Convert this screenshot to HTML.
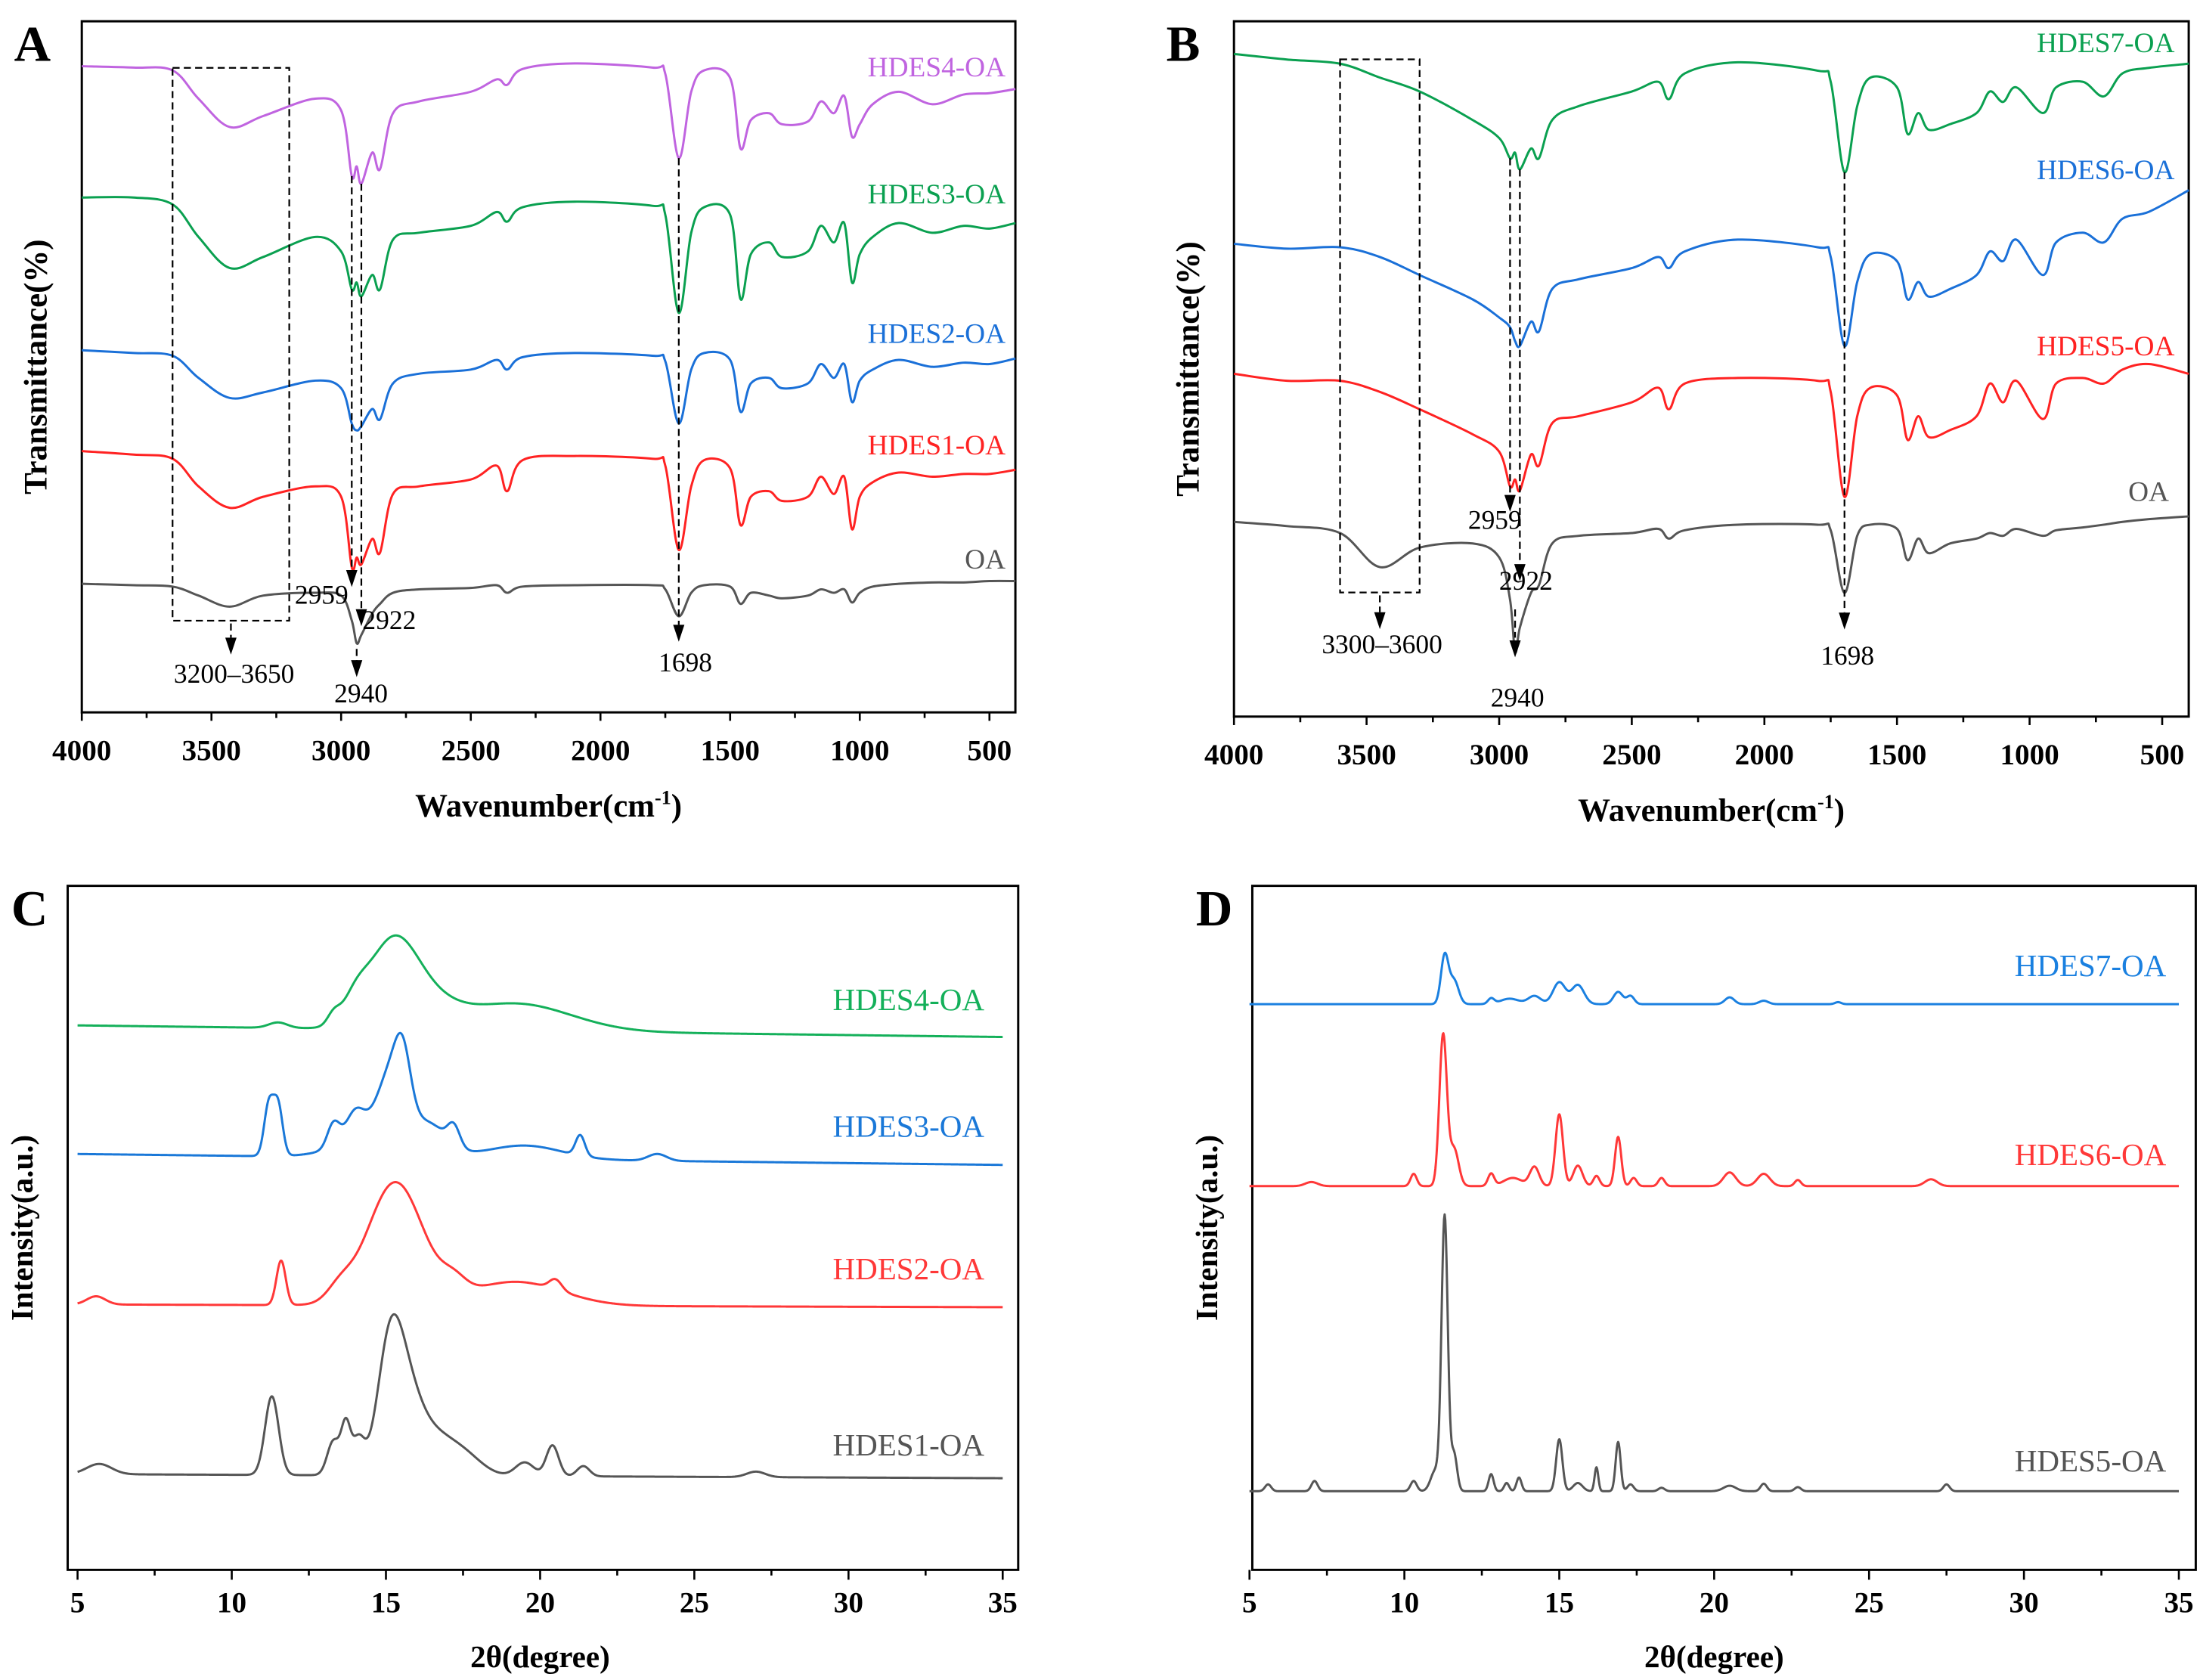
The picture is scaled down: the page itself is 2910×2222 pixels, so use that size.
<!DOCTYPE html>
<html><head><meta charset="utf-8"><style>
html,body{margin:0;padding:0;background:#fff;}
svg{display:block;font-family:"Liberation Serif",serif;}
</style></head><body>
<svg id="fig" width="2910" height="2222" viewBox="0 0 1560 1191" xmlns="http://www.w3.org/2000/svg"></svg>
<script>
// ---------- Panel A data (FTIR, transmittance a.u.) ----------
const wnA=[4000,3800,3650,3550,3430,3300,3100,3000,2959,2940,2922,2880,2850,2800,2700,2500,2400,2360,2300,2100,1800,1750,1698,1650,1600,1500,1460,1420,1350,1300,1200,1150,1100,1060,1030,1000,950,850,720,600,500,400];
const a_HDES4=[93.5,93.3,92.9,88.8,84.7,86.3,88.8,87.1,77.6,79.0,76.5,81.0,78.6,86.7,88.4,89.8,91.6,90.8,93.1,93.9,93.3,92.4,80.2,89.8,92.9,91.8,81.6,85.7,86.7,85.1,85.5,88.4,86.7,89.2,83.3,85.1,88.0,89.8,88.0,89.4,89.6,90.2];
const a_HDES3=[74.5,74.5,73.5,68.8,64.3,65.9,68.8,66.7,61.2,62.2,60.2,63.3,61.2,68.4,69.4,70.4,72.4,71.0,73.1,73.9,73.3,72.0,57.8,69.4,73.1,72.0,59.8,66.3,68.0,65.9,66.7,70.4,68.0,70.8,62.2,66.3,68.8,70.8,69.4,70.4,70.0,70.8];
const a_HDES2=[52.4,52.0,51.6,48.4,45.5,46.3,48.0,46.9,41.8,40.8,41.4,43.9,42.4,47.6,49.0,49.6,51.0,49.6,51.4,52.0,51.6,50.8,41.8,49.6,52.0,51.0,43.5,47.6,48.4,46.9,47.6,50.4,48.4,50.4,44.9,48.0,49.6,51.0,50.0,50.6,50.4,51.2];
const a_HDES1=[37.8,37.3,36.7,32.7,29.6,31.2,32.7,31.2,21.0,22.4,21.4,25.1,23.1,31.6,32.7,33.7,35.7,32.0,36.5,37.1,36.7,35.7,23.5,32.7,36.5,35.3,27.1,31.2,32.0,30.6,31.2,34.1,31.6,34.1,26.5,31.2,33.3,34.7,34.1,34.5,34.5,35.1];
const a_OA=[18.6,18.4,18.2,16.9,15.3,16.9,17.3,16.9,13.3,10.0,11.2,14.3,15.7,17.3,17.8,18.0,18.4,17.3,18.2,18.4,18.4,17.8,13.9,17.3,18.4,18.2,15.7,17.3,16.9,16.5,16.9,17.8,17.3,17.8,15.9,17.3,18.2,18.6,18.8,18.8,19.0,19.0];
// ---------- Panel B data ----------
const wnB=[4000,3800,3600,3450,3300,3100,3000,2959,2940,2922,2880,2850,2800,2700,2500,2400,2360,2300,2100,1800,1750,1698,1650,1600,1500,1460,1420,1380,1300,1200,1150,1100,1050,950,900,800,720,650,550,400];
const b_HDES7=[95.3,94.5,93.9,91.9,89.9,85.8,83.2,80.3,81.1,78.7,81.7,80.3,85.8,87.8,89.9,91.3,88.8,92.5,94.1,92.9,91.3,78.3,87.8,91.9,90.5,83.8,86.8,84.4,85.2,86.8,89.9,88.4,90.5,86.8,90.5,91.3,89.2,92.5,93.3,93.9];
const b_HDES6=[68.0,67.3,67.5,66.1,63.5,60.0,57.4,56.0,54.0,53.3,56.8,55.4,61.5,62.9,64.5,66.1,64.5,66.9,68.6,67.5,66.1,53.3,62.5,66.5,65.5,60.0,62.5,60.4,61.5,63.5,66.9,65.5,68.6,63.5,68.2,69.6,68.2,71.6,72.6,75.7];
const b_HDES5=[49.3,48.3,48.3,46.7,44.2,40.6,38.1,33.1,34.1,32.5,37.7,36.1,42.2,43.2,45.2,47.3,44.2,47.9,48.7,48.3,46.7,31.6,43.2,47.3,46.2,39.8,43.2,40.2,41.2,43.2,47.9,45.2,48.3,42.8,47.9,48.7,47.9,49.9,50.7,49.3];
const b_OA=[28.0,27.4,26.4,21.5,24.3,24.9,22.9,16.8,9.3,12.8,17.8,18.9,24.9,26.0,26.4,27.0,25.6,26.8,27.6,27.6,26.8,17.8,26.0,27.6,27.0,22.5,25.6,23.5,24.9,25.6,26.4,26.0,27.0,26.0,26.8,27.2,27.6,28.0,28.4,28.8];
// ---------- Panel C data (XRD peaks: position, height, width) ----------
const c4_base=[79.6,77.9];
const c4_pos=[15.2,16.4,14.0,13.3,19.2,11.5];
const c4_h=[12.0,3.0,3.0,1.5,4.0,0.8];
const c4_w=[0.8,0.9,0.4,0.2,1.8,0.3];
const c3_base=[60.8,59.2];
const c3_pos=[11.2,11.5,13.3,14.0,15.0,15.2,15.55,16.5,17.2,19.5,21.3,23.8];
const c3_h=[7.4,7.4,3.5,4.0,4.0,9.0,7.0,3.0,3.0,2.0,3.0,1.0];
const c3_w=[0.15,0.15,0.2,0.3,1.2,0.45,0.25,0.5,0.2,1.2,0.15,0.3];
const c2_base=[38.8,38.4];
const c2_pos=[5.6,11.6,15.3,13.5,17.2,19.2,20.5];
const c2_h=[1.2,6.5,17.9,2.0,2.0,3.5,1.5];
const c2_w=[0.3,0.15,0.9,0.4,0.4,1.5,0.2];
const c1_base=[14.0,13.4];
const c1_pos=[5.7,11.3,13.3,13.7,14.1,15.1,15.6,16.5,17.5,19.5,20.4,21.4,27.0];
const c1_h=[1.5,11.5,5.0,7.0,5.0,15.0,11.5,5.0,3.0,2.0,4.5,1.5,0.8];
const c1_w=[0.4,0.22,0.2,0.15,0.2,0.4,0.5,0.6,0.6,0.3,0.2,0.2,0.3];
// ---------- Panel D data ----------
const d7_base=[82.7,82.7];
const d7_pos=[11.3,11.6,12.8,13.4,14.2,15.0,15.6,16.9,17.3,20.5,21.6,24.0];
const d7_h=[7.0,3.5,0.8,0.8,1.2,3.2,2.8,1.8,1.2,1.0,0.5,0.3];
const d7_w=[0.12,0.15,0.1,0.3,0.2,0.2,0.2,0.15,0.12,0.15,0.15,0.1];
const d6_base=[56.1,56.1];
const d6_pos=[11.25,11.6,10.3,12.8,13.5,14.2,15.0,15.6,16.2,16.9,17.4,18.3,20.5,21.6,22.7,27.0,7.0];
const d6_h=[22.0,5.5,1.8,1.8,1.2,2.8,10.5,3.0,1.5,7.2,1.2,1.2,2.0,1.8,0.9,1.0,0.6];
const d6_w=[0.12,0.15,0.1,0.1,0.3,0.15,0.12,0.15,0.1,0.1,0.1,0.1,0.2,0.2,0.1,0.2,0.2];
const d5_base=[11.5,11.5];
const d5_pos=[11.3,11.0,11.6,10.3,5.6,7.1,12.8,13.3,13.7,15.0,15.6,16.2,16.9,17.3,18.3,20.5,21.6,22.7,27.5];
const d5_h=[40.0,3.0,5.5,1.5,1.0,1.5,2.5,1.2,2.0,7.6,1.2,3.5,7.2,1.0,0.5,0.8,1.1,0.6,1.0];
const d5_w=[0.1,0.15,0.1,0.1,0.1,0.1,0.08,0.08,0.08,0.1,0.15,0.06,0.08,0.1,0.1,0.2,0.1,0.1,0.1];
const ftirTicks=[4000,3500,3000,2500,2000,1500,1000,500];
const xrdTicks=[5,10,15,20,25,30,35];

const NS='http://www.w3.org/2000/svg';
const svg=document.getElementById('fig');
function mk(tag,attrs,parent){const e=document.createElementNS(NS,tag);for(const k in attrs)e.setAttribute(k,attrs[k]);(parent||svg).appendChild(e);return e;}
function txt(s,attrs,parent){const e=mk('text',attrs,parent);e.textContent=s;return e;}
function scale(d0,d1,r0,r1){return v=>r0+(v-d0)/(d1-d0)*(r1-r0);}
function crPath(pts){let d='M'+pts[0][0].toFixed(2)+','+pts[0][1].toFixed(2);
 for(let i=0;i<pts.length-1;i++){const p0=pts[Math.max(0,i-1)],p1=pts[i],p2=pts[i+1],p3=pts[Math.min(pts.length-1,i+2)];
  const c1=[p1[0]+(p2[0]-p0[0])/6,p1[1]+(p2[1]-p0[1])/6],c2=[p2[0]-(p3[0]-p1[0])/6,p2[1]-(p3[1]-p1[1])/6];
  d+='C'+c1[0].toFixed(2)+','+c1[1].toFixed(2)+' '+c2[0].toFixed(2)+','+c2[1].toFixed(2)+' '+p2[0].toFixed(2)+','+p2[1].toFixed(2);}
 return d;}

function frame(g,L,T,R,B,name){const r=mk('rect',{x:L,y:T,width:R-L,height:B-T,fill:'none',stroke:'#000','stroke-width':1.6},g);}

function ftirPanel(id,L,T,R,B,wn,series,colors,names,labelYs,labelXs,letter){
 const g=mk('g',{});
 const x=scale(4000,400,L,R), y=scale(0,100,B,T);
 frame(g,L,T,R,B,'panel-'+id);
 for(let v=4000;v>=500;v-=250){const t=mk('line',{x1:x(v),x2:x(v),y1:B,y2:B+(v%500===0?6:4),stroke:'#000','stroke-width':1.4},g);}
 ftirTicks.forEach(v=>{const t=txt(String(v),{x:x(v),y:B+34,'text-anchor':'middle','font-size':21,'font-weight':'bold'},g);});
 series.forEach((s,i)=>{const p=mk('path',{d:crPath(wn.map((w,j)=>[x(w),y(s[j])])),fill:'none',stroke:colors[i],'stroke-width':1.6},g);
  const t=txt(names[i],{x:labelXs[i],y:labelYs[i],'text-anchor':'end','font-size':20,fill:colors[i]},g);});
 const xt=mk('text',{x:(L+R)/2,y:B+74,'text-anchor':'middle','font-size':23,'font-weight':'bold'},g);xt.innerHTML='Wavenumber(cm<tspan dy="-9" font-size="14">-1</tspan><tspan dy="9">)</tspan>';
 const yt=txt('Transmittance(%)',{x:0,y:0,'text-anchor':'middle','font-size':23,'font-weight':'bold',transform:`translate(${L-25},${(T+B)/2}) rotate(-90)`},g);
 const pl=txt(letter,{x:L-48,y:T+28,'font-size':36,'font-weight':'bold'},g);
 return {g,x,y};
}
function dashLine(g,x1,y1,x2,y2,name){const l=mk('line',{x1,y1,x2,y2,stroke:'#000','stroke-width':1.2,'stroke-dasharray':'5,3'},g);}
function arrow(g,x,y,name){const a=mk('path',{d:`M${x-4},${y-12}L${x+4},${y-12}L${x},${y}Z`,fill:'#000'},g);}
function ann(g,s,x,y,name){const t=txt(s,{x,y,'text-anchor':'middle','font-size':19},g);}

// Panel A
const A=ftirPanel('a',58,15,720,505,wnA,[a_HDES4,a_HDES3,a_HDES2,a_HDES1,a_OA],['#c064e0','#0aa050','#1a70d8','#ff2222','#555'],['HDES4-OA','HDES3-OA','HDES2-OA','HDES1-OA','OA'],[54,144,243,322,403],[713,713,713,713,713],'A');
{const g=A.g,x=A.x,y=A.y;
 const r=mk('rect',{x:x(3650),y:48,width:x(3200)-x(3650),height:392,fill:'none',stroke:'#000','stroke-width':1.2,'stroke-dasharray':'5,3'},g);
 dashLine(g,x(2959),y(77.6),x(2959),y(21.0)+12,'guide-2959');arrow(g,x(2959),y(21.0)+14,'arrow-2959');
 dashLine(g,x(2922),y(76.5),x(2922),y(13.3)+2,'guide-2922');arrow(g,x(2922),y(13.3)+4,'arrow-2922');
 dashLine(g,x(1698),y(80.2),x(1698),y(13.9)+6,'guide-1698');arrow(g,x(1698),y(13.9)+18,'arrow-1698');
 dashLine(g,x(2940),460,x(2940),470,'guide-2940');arrow(g,x(2940),480,'arrow-2940');
 dashLine(g,x(3425),442,x(3425),452,'guide-oh');arrow(g,x(3425),464,'arrow-oh');
 ann(g,'2959',228,428,'ann-2959');ann(g,'2922',276,446,'ann-2922');ann(g,'2940',256,498,'ann-2940');ann(g,'1698',486,476,'ann-1698');ann(g,'3200–3650',166,484,'ann-oh-range');}

// Panel B
const Bp=ftirPanel('b',875,15,1552,508,wnB,[b_HDES7,b_HDES6,b_HDES5,b_OA],['#0aa050','#1a70d8','#ff2222','#555'],['HDES7-OA','HDES6-OA','HDES5-OA','OA'],[37,127,252,355],[1542,1542,1542,1538],'B');
{const g=Bp.g,x=Bp.x,y=Bp.y;
 const r=mk('rect',{x:x(3600),y:42,width:x(3300)-x(3600),height:378,fill:'none',stroke:'#000','stroke-width':1.2,'stroke-dasharray':'5,3'},g);
 dashLine(g,x(2959),y(80.3),x(2959),y(33.1)+6,'guide-2959');arrow(g,x(2959),y(33.1)+18,'arrow-2959');
 dashLine(g,x(2922),y(78.7),x(2922),y(12.8)-45,'guide-2922');arrow(g,x(2922),y(12.8)-33,'arrow-2922');
 dashLine(g,x(1698),y(78.3),x(1698),y(17.8)+14,'guide-1698');arrow(g,x(1698),y(17.8)+26,'arrow-1698');
 dashLine(g,x(2940),432,x(2940),452,'guide-2940');arrow(g,x(2940),466,'arrow-2940');
 dashLine(g,x(3450),422,x(3450),434,'guide-oh');arrow(g,x(3450),446,'arrow-oh');
 ann(g,'2959',1060,375,'ann-2959');ann(g,'2922',1082,418,'ann-2922');ann(g,'2940',1076,501,'ann-2940');ann(g,'1698',1310,471,'ann-1698');ann(g,'3300–3600',980,463,'ann-oh-range');}

function xrdPanel(id,L,T,R,B,x0px,x1px,series,colors,names,labelYs,labelX,letter){
 const g=mk('g',{});
 const x=scale(5,35,x0px,x1px), y=scale(0,100,B,T);
 frame(g,L,T,R,B,'panel-'+id);
 for(let v=5;v<=35;v+=2.5){const t=mk('line',{x1:x(v),x2:x(v),y1:B,y2:B+(v%5===0?7:4),stroke:'#000','stroke-width':1.4},g);}
 xrdTicks.forEach(v=>{const t=txt(String(v),{x:x(v),y:B+30,'text-anchor':'middle','font-size':21,'font-weight':'bold'},g);});
 series.forEach((s,i)=>{const pts=[];for(let t=5;t<=35.0001;t+=0.02){let v=s.base[0]+(s.base[1]-s.base[0])*(t-5)/30;
   for(let k=0;k<s.pos.length;k++){const d=(t-s.pos[k])/s.w[k];v+=s.h[k]*Math.exp(-0.5*d*d);}pts.push(x(t).toFixed(2)+','+y(v).toFixed(2));}
  const p=mk('polyline',{points:pts.join(' '),fill:'none',stroke:colors[i],'stroke-width':1.6,'stroke-linejoin':'round'},g);
  const tl=txt(names[i],{x:labelX,y:labelYs[i],'text-anchor':'end','font-size':22,fill:colors[i]},g);});
 const xt=txt('2θ(degree)',{x:(x0px+x1px)/2,y:B+69,'text-anchor':'middle','font-size':22,'font-weight':'bold'},g);
 const yt=txt('Intensity(a.u.)',{x:0,y:0,'text-anchor':'middle','font-size':22,'font-weight':'bold',transform:`translate(${L-25},${(T+B)/2}) rotate(-90)`},g);
 const pl=txt(letter,{x:L-40,y:T+28,'font-size':36,'font-weight':'bold'},g);
}
xrdPanel('c',48,628,722,1113,55,711,[
 {base:c4_base,pos:c4_pos,h:c4_h,w:c4_w},{base:c3_base,pos:c3_pos,h:c3_h,w:c3_w},
 {base:c2_base,pos:c2_pos,h:c2_h,w:c2_w},{base:c1_base,pos:c1_pos,h:c1_h,w:c1_w}],
 ['#14b05a','#1a78d8','#ff3838','#555'],['HDES4-OA','HDES3-OA','HDES2-OA','HDES1-OA'],[716,806,907,1032],698,'C');
xrdPanel('d',888,628,1557,1113,886,1545,[
 {base:d7_base,pos:d7_pos,h:d7_h,w:d7_w},{base:d6_base,pos:d6_pos,h:d6_h,w:d6_w},{base:d5_base,pos:d5_pos,h:d5_h,w:d5_w}],
 ['#1a80e0','#ff3838','#555'],['HDES7-OA','HDES6-OA','HDES5-OA'],[692,826,1043],1536,'D');
</script>
</body></html>
